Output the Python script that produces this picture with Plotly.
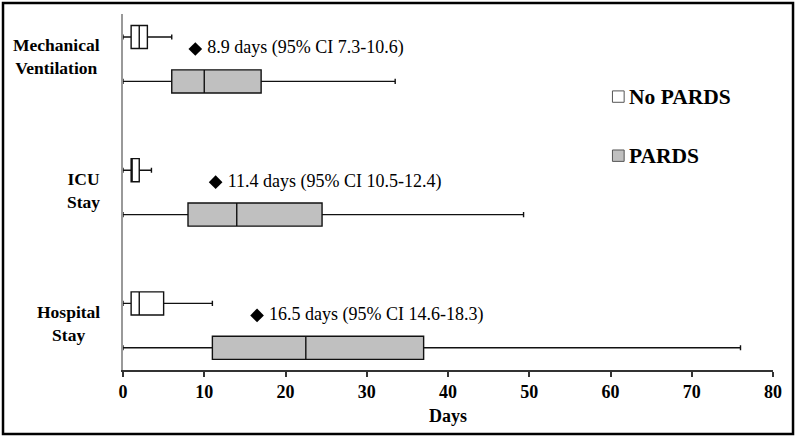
import plotly.graph_objects as go

# ---- data ----
categories = ["Mechanical<br>Ventilation", "ICU<br>Stay", "Hospital<br>Stay"]
series_names = ["No PARDS", "PARDS"]

no_pards_low = [0, 0, 0]
no_pards_q1 = [1, 1, 1]
no_pards_median = [2, 1, 2]
no_pards_q3 = [3, 2, 5]
no_pards_high = [6, 3.5, 11]

pards_low = [0, 0, 0]
pards_q1 = [6, 8, 11]
pards_median = [10, 14, 22.5]
pards_q3 = [17, 24.5, 37]
pards_high = [33.5, 49.3, 76]

diff_mean = [8.9, 11.4, 16.5]
diff_labels = ["8.9 days (95% CI 7.3-10.6)",
               "11.4 days (95% CI 10.5-12.4)",
               "16.5 days (95% CI 14.6-18.3)"]

x_ticks = [0, 10, 20, 30, 40, 50, 60, 70, 80]

# ---- style ----
FONT = "Liberation Serif, Times New Roman, DejaVu Serif, serif"
colors = ["#ffffff", "#c0c0c0"]
GROUP_STEP = 3
ypos_no = [i * GROUP_STEP for i in range(len(categories))]
ypos_p = [i * GROUP_STEP + 1 for i in range(len(categories))]
ypos_mean = [i * GROUP_STEP + 0.27 for i in range(len(categories))]
ypos_label = [i * GROUP_STEP + 0.45 for i in range(len(categories))]

fig = go.Figure()

fig.add_trace(go.Box(
    name=series_names[0], orientation="h", y=ypos_no,
    q1=no_pards_q1, median=no_pards_median, q3=no_pards_q3,
    lowerfence=no_pards_low, upperfence=no_pards_high,
    fillcolor=colors[0], line=dict(color="#111111", width=1.4),
    width=0.52, whiskerwidth=0.22, boxpoints=False, hoverinfo="skip",
    showlegend=False,
))
fig.add_trace(go.Box(
    name=series_names[1], orientation="h", y=ypos_p,
    q1=pards_q1, median=pards_median, q3=pards_q3,
    lowerfence=pards_low, upperfence=pards_high,
    fillcolor=colors[1], line=dict(color="#111111", width=1.4),
    width=0.52, whiskerwidth=0.22, boxpoints=False, hoverinfo="skip",
    showlegend=False,
))
fig.add_trace(go.Scatter(
    x=diff_mean, y=ypos_mean, mode="markers+text",
    marker=dict(symbol="diamond", size=10.5, color="black"),
    text=[" " + t for t in diff_labels], textposition="middle right",
    textfont=dict(family=FONT, size=18, color="black"),
    hoverinfo="skip", showlegend=False,
))

# category labels
for lab, yy in zip(categories, ypos_label):
    fig.add_annotation(text="<b>" + lab + "</b>", x=-0.032, xref="paper",
                       y=yy, yref="y", xanchor="right", yanchor="middle",
                       align="center", showarrow=False,
                       font=dict(family=FONT, size=17.5, color="black"))

# manual legend
legend_y = [0.768, 0.602]
for name, col, ly in zip(series_names, colors, legend_y):
    fig.add_shape(type="rect", xref="paper", yref="paper",
                  x0=0.753, x1=0.771, y0=ly - 0.016, y1=ly + 0.016,
                  line=dict(color="#555555", width=1), fillcolor=col)
    fig.add_annotation(text="<b>" + name + "</b>", x=0.775, xref="paper",
                       y=ly, yref="paper", xanchor="left", yanchor="middle",
                       showarrow=False,
                       font=dict(family=FONT, size=21.5, color="black"))

# outer frame
fig.add_shape(type="rect", xref="paper", yref="paper",
              x0=-0.1846, x1=1.0308, y0=-0.1798, y1=1.0309,
              line=dict(color="black", width=2.5), fillcolor="rgba(0,0,0,0)")

fig.update_layout(
    width=800, height=439,
    margin=dict(l=123, r=27, t=14, b=69),
    paper_bgcolor="white", plot_bgcolor="white",
    boxmode="overlay",
    font=dict(family=FONT, color="black"),
    xaxis=dict(range=[0, 80], tickvals=x_ticks, ticks="outside", ticklen=5,
               tickcolor="#333333", tickwidth=1.5,
               showline=True, linecolor="#333333", linewidth=1.5,
               showgrid=False, zeroline=False,
               tickfont=dict(family=FONT, size=18, color="black",
                             weight="bold"),
               ticklabelstandoff=0,
               title=dict(text="<b>Days</b>", standoff=8,
                          font=dict(family=FONT, size=18, color="black"))),
    yaxis=dict(range=[7.5, -0.518], showline=True, linecolor="#999999",
               linewidth=1.5, showticklabels=False, ticks="",
               showgrid=False, zeroline=False),
)

fig.write_html("out.html",
               config={"displayModeBar": False},
               post_script="document.body.style.margin='0';"
                           "document.body.style.overflow='hidden';")
